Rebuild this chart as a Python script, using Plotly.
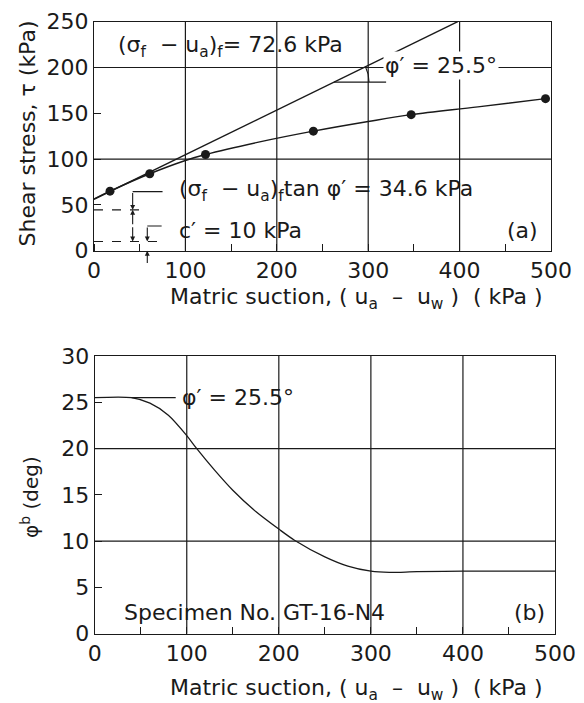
import numpy as np
import plotly.graph_objects as go

# ---------------- data ----------------
# (a) shear stress vs matric suction
pts_x = [17.5, 61, 122, 240, 347, 494]
pts_y = [65, 84, 105, 130.5, 148.5, 166]
curve_a_x = [0, 17.5, 61, 100, 122, 180, 240, 300, 347, 420, 494]
curve_a_y = [56.5, 65, 84, 98.5, 105, 118.5, 130.5, 141, 148.5, 157, 166]
envelope_x = [0, 398]
envelope_y = [56, 250]
# (b) phi_b vs matric suction
phib_x = [0, 40, 60, 80, 100, 110, 130, 150, 175, 200, 217, 250, 275, 300, 320, 350, 400, 500]
phib_y = [25.5, 25.5, 24.9, 23.6, 21.4, 20.1, 17.7, 15.5, 13.2, 11.3, 10.1, 8.3, 7.3, 6.75, 6.62, 6.7, 6.75, 6.75]

x_ticks = [0, 100, 200, 300, 400, 500]
ya_ticks = [0, 50, 100, 150, 200, 250]
yb_ticks = [0, 5, 10, 15, 20, 25, 30]
grid_x = [100, 200, 300, 400]
grid_ya = [100, 200]
grid_yb = [10, 20]

c_prime = 10.0
sigma_tan = 34.6

W, H = 584, 703
FONT = "DejaVu Sans, Verdana, sans-serif"
BLK = "#1a1a1a"
FS = 22

dom_xa = [94 / W, 551 / W]
dom_ya = [1 - 250.7 / H, 1 - 21.7 / H]
dom_xb = [94.7 / W, 555 / W]
dom_yb = [1 - 633.7 / H, 1 - 356 / H]

fig = go.Figure()

# (a) traces
fig.add_trace(go.Scatter(x=envelope_x, y=envelope_y, mode="lines",
                         line=dict(color=BLK, width=1.4), xaxis="x", yaxis="y", showlegend=False))
fig.add_trace(go.Scatter(x=curve_a_x, y=curve_a_y, mode="lines", line_shape="spline",
                         line=dict(color=BLK, width=1.4), xaxis="x", yaxis="y", showlegend=False))
fig.add_trace(go.Scatter(x=pts_x, y=pts_y, mode="markers",
                         marker=dict(color=BLK, size=9), xaxis="x", yaxis="y", showlegend=False))
# (b) trace
fig.add_trace(go.Scatter(x=phib_x, y=phib_y, mode="lines", line_shape="spline",
                         line=dict(color=BLK, width=1.3, smoothing=0.8), xaxis="x2", yaxis="y2",
                         showlegend=False))

# angle arc for phi' in (a)
pxx = (dom_xa[1] - dom_xa[0]) * W / 500.0
pxy = (dom_ya[1] - dom_ya[0]) * H / 250.0
slope = (envelope_y[1] - envelope_y[0]) / (envelope_x[1] - envelope_x[0])
y_ref = 184.0
x_c = envelope_x[0] + (y_ref - envelope_y[0]) / slope
ang = np.arctan(slope * pxy / pxx)
t = np.linspace(0, ang, 20)
R = 35.0
fig.add_trace(go.Scatter(x=x_c + R * np.cos(t) / pxx, y=y_ref + R * np.sin(t) / pxy, mode="lines",
                         line=dict(color=BLK, width=1.1), xaxis="x", yaxis="y", showlegend=False))

shapes = []
for gx in grid_x:
    shapes.append(dict(type="line", xref="x", yref="y domain", x0=gx, x1=gx, y0=0, y1=1,
                       line=dict(color=BLK, width=1.2), layer="below"))
    shapes.append(dict(type="line", xref="x2", yref="y2 domain", x0=gx, x1=gx, y0=0, y1=1,
                       line=dict(color=BLK, width=1.2), layer="below"))
for gy in grid_ya:
    shapes.append(dict(type="line", xref="x domain", yref="y", x0=0, x1=1, y0=gy, y1=gy,
                       line=dict(color=BLK, width=1.2), layer="below"))
for gy in grid_yb:
    shapes.append(dict(type="line", xref="x2 domain", yref="y2", x0=0, x1=1, y0=gy, y1=gy,
                       line=dict(color=BLK, width=1.2), layer="below"))

# reference horizontal line of the angle
shapes.append(dict(type="line", xref="x", yref="y", x0=x_c, x1=x_c + 57, y0=y_ref, y1=y_ref,
                   line=dict(color=BLK, width=1.1)))
# dashed levels
shapes.append(dict(type="line", xref="x", yref="y", x0=0, x1=51, y0=c_prime + sigma_tan, y1=c_prime + sigma_tan,
                   line=dict(color=BLK, width=1.1, dash="dash")))
shapes.append(dict(type="line", xref="x", yref="y", x0=0, x1=74, y0=c_prime, y1=c_prime,
                   line=dict(color=BLK, width=1.1, dash="dash")))
# leaders
shapes.append(dict(type="line", xref="x", yref="y", x0=42.3, x1=75, y0=64.5, y1=64.5,
                   line=dict(color=BLK, width=1.1)))
shapes.append(dict(type="line", xref="x", yref="y", x0=58.3, x1=74, y0=27, y1=27,
                   line=dict(color=BLK, width=1.1)))
# (b) leader
shapes.append(dict(type="line", xref="x2", yref="y2", x0=40, x1=88, y0=25.5, y1=25.5,
                   line=dict(color=BLK, width=1.1)))

txt = dict(family=FONT, size=FS, color=BLK)
ann = []


def arrow(x, y, ax, ay):
    ann.append(dict(x=x, y=y, ax=ax, ay=ay, xref="x", yref="y", axref="x", ayref="y",
                    showarrow=True, arrowhead=2, arrowsize=0.9, arrowwidth=1.1,
                    arrowcolor=BLK, text=""))


arrow(42.3, c_prime + sigma_tan, 42.3, 64.5)
mid = c_prime + sigma_tan / 2
arrow(42.3, c_prime + sigma_tan, 42.3, mid)
arrow(42.3, c_prime, 42.3, mid)
arrow(58.3, c_prime, 58.3, 27)
arrow(58.3, 0, 58.3, -15)

NB = "\u00a0"
xtitle = ("Matric suction," + NB + "(" + NB + "u<sub>a</sub>" + NB * 2 + "–" + NB * 2 +
          "u<sub>w</sub>" + NB + ")" + NB * 2 + "(" + NB + "kPa" + NB + ")")

ann += [
    dict(x=24, y=222.7, xref="x", yref="y", xanchor="left", yanchor="middle", showarrow=False,
         text="(σ<sub>f</sub>" + NB + " − u<sub>a</sub>)<sub>f</sub>= 72.6 kPa", font=txt),
    dict(x=316, y=202.7, xref="x", yref="y", xanchor="left", yanchor="middle", showarrow=False,
         text="φ′ = 25.5°", font=txt, bgcolor="white"),
    dict(x=91, y=65.5, xref="x", yref="y", xanchor="left", yanchor="middle", showarrow=False,
         text="(σ<sub>f</sub>" + NB + " − u<sub>a</sub>)<sub>f</sub>tan φ′ = 34.6 kPa", font=txt),
    dict(x=91, y=22.6, xref="x", yref="y", xanchor="left", yanchor="middle", showarrow=False,
         text="c′ = 10 kPa", font=txt),
    dict(x=488, y=22.6, xref="x", yref="y", xanchor="right", yanchor="middle", showarrow=False,
         text="(a)", font=txt),
    dict(x=93, y=25.5, xref="x2", yref="y2", xanchor="left", yanchor="middle", showarrow=False,
         text="φ′ = 25.5°", font=txt),
    dict(x=30, y=2.3, xref="x2", yref="y2", xanchor="left", yanchor="middle", showarrow=False,
         text="Specimen No. GT-16-N4", font=txt),
    dict(x=491, y=2.3, xref="x2", yref="y2", xanchor="right", yanchor="middle", showarrow=False,
         text="(b)", font=txt),
    # axis titles
    dict(x=27 / W, y=1 - 133.5 / H, xref="paper", yref="paper", xanchor="center", yanchor="middle",
         showarrow=False, textangle=-90, text="Shear stress, τ (kPa)", font=txt),
    dict(x=30 / W, y=1 - 497 / H, xref="paper", yref="paper", xanchor="center", yanchor="middle",
         showarrow=False, textangle=-90, text="φ<sup>b</sup> (deg)", font=dict(family=FONT, size=20, color=BLK)),
    dict(x=356 / W, y=1 - 298 / H, xref="paper", yref="paper", xanchor="center", yanchor="middle",
         showarrow=False, text=xtitle, font=txt),
    dict(x=356 / W, y=1 - 689 / H, xref="paper", yref="paper", xanchor="center", yanchor="middle",
         showarrow=False, text=xtitle, font=txt),
]

axis_common = dict(showline=True, linecolor=BLK, linewidth=1.3, mirror=True, showgrid=False,
                   zeroline=False, tickfont=dict(family=FONT, size=FS, color=BLK), automargin=False)

fig.update_layout(
    width=W, height=H, margin=dict(l=0, r=0, t=0, b=0),
    paper_bgcolor="white", plot_bgcolor="white",
    shapes=shapes, annotations=ann,
    xaxis=dict(domain=dom_xa, range=[0, 500], anchor="y", tickvals=x_ticks, ticks="",
               minor=dict(dtick=50, tick0=0, ticks="inside", ticklen=7, tickcolor=BLK, tickwidth=1.1),
               **axis_common),
    yaxis=dict(domain=dom_ya, range=[0, 250], anchor="x", tickvals=ya_ticks, ticks="inside",
               ticklen=7, tickcolor=BLK, tickwidth=1.1, **axis_common),
    xaxis2=dict(domain=dom_xb, range=[0, 500], anchor="y2", tickvals=x_ticks, ticks="",
                minor=dict(dtick=50, tick0=0, ticks="inside", ticklen=7, tickcolor=BLK, tickwidth=1.1),
                **axis_common),
    yaxis2=dict(domain=dom_yb, range=[0, 30], anchor="x2", tickvals=yb_ticks, ticks="inside",
                ticklen=7, tickcolor=BLK, tickwidth=1.1, **axis_common),
)

fig.write_html("out.html")
